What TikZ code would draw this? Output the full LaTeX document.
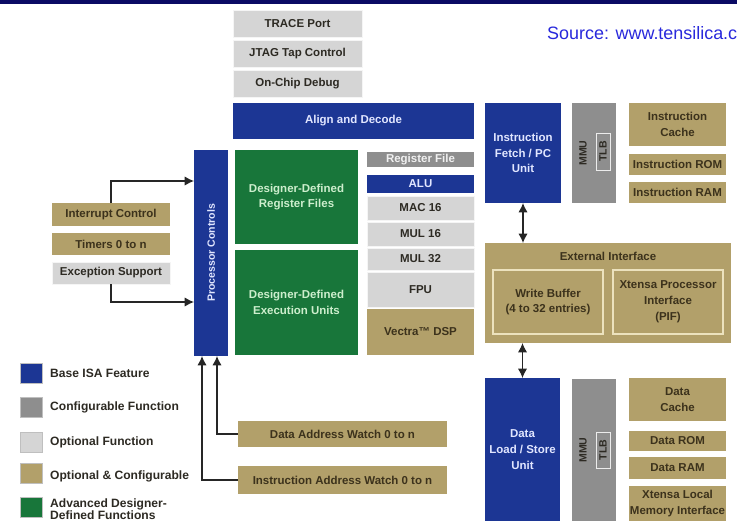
\documentclass[tikz,border=0pt]{standalone}
\usepackage{fontspec}
\setmainfont{Liberation Sans}
\usetikzlibrary{arrows.meta}

\definecolor{isablue}{RGB}{28,54,148}
\definecolor{cfggray}{RGB}{142,142,142}
\definecolor{optgray}{RGB}{213,213,213}
\definecolor{tan}{RGB}{178,160,106}
\definecolor{ddgreen}{RGB}{24,118,58}
\definecolor{topnavy}{RGB}{10,10,100}
\definecolor{srcblue}{RGB}{40,40,220}
\definecolor{inkdark}{RGB}{45,42,35}
\definecolor{inktan}{RGB}{60,50,28}
\definecolor{inkblue}{RGB}{225,230,255}
\definecolor{inkgreen}{RGB}{205,238,205}
\definecolor{cream}{RGB}{236,226,190}

% a block spanning the corner points (x1,y1) and (x2,y2), one unit = 0.03cm
\newcommand\blk[7]{\node[#1,
    minimum width={(#5-#3)*0.03cm}, minimum height={(#6-#4)*0.03cm}]
    (#2) at ({(#3+#5)/2},{(#4+#6)/2}) {#7};}

\tikzset{
  base/.style={inner sep=0pt, outer sep=0pt, align=center,
    font=\fontsize{9.8}{13.5}\selectfont\bfseries},
  isa/.style={base, fill=isablue, text=inkblue},
  cfg/.style={base, fill=cfggray, text=inkdark},
  opt/.style={base, fill=optgray, draw=white!92!gray, line width=0.6pt, text=inkdark},
  optcfg/.style={base, fill=tan, text=inktan},
  adv/.style={base, fill=ddgreen, text=inkgreen},
  inner/.style={base, fill=tan, draw=cream, line width=1.3pt, text=inktan},
  tlbbox/.style={inner sep=0pt, draw=white!85!gray, line width=0.8pt},
  vlabel/.style={rotate=90, font=\fontsize{9}{10}\selectfont\bfseries},
  arr/.style={draw=black!85, line width=1.1pt, -{Latex[length=8pt,width=8pt]}},
  dbl/.style={draw=black!85, line width=1.1pt, {Latex[length=8pt,width=8pt]}-{Latex[length=8pt,width=8pt]}},
  swatch/.style={inner sep=0pt, minimum width=0.66cm, minimum height=0.6cm, draw=black!25, line width=0.5pt},
  legtext/.style={anchor=west, inner sep=0pt, text=inkdark, align=left,
    font=\fontsize{10.3}{10.5}\selectfont\bfseries},
}

\begin{document}
\begin{tikzpicture}[x=0.03cm, y=-0.03cm]
\useasboundingbox (0,0) rectangle (737,523);
\clip (0,0) rectangle (737,523);
\fill[white] (0,0) rectangle (737,523);

% header rule and source line
\fill[topnavy] (0,0) rectangle (737,3.5);
\node[anchor=west, inner sep=0pt, text=srcblue, font=\fontsize{15.3}{17}\selectfont]
  (src) at (547,33) {Source: www.tensilica.c};

% debug blocks
\blk{opt}{trace}{233}{10}{362}{37}{TRACE Port}
\blk{opt}{jtag}{233}{40}{362}{67}{JTAG Tap Control}
\blk{opt}{ocd}{233}{70}{362}{97}{On-Chip Debug}

% decode and control
\blk{isa}{align}{233}{103}{474}{139}{Align and Decode}
\blk{isa}{pc}{194}{150}{228}{356}{}
\node[vlabel, text=inkblue] (pclabel) at (pc.center) {Processor Controls};

% designer-defined blocks
\blk{adv}{ddrf}{235}{150}{358}{244}{Designer-Defined\\Register Files}
\blk{adv}{ddeu}{235}{250}{358}{355}{Designer-Defined\\Execution Units}

% execution column
\blk{cfg}{rf}{367}{152}{474}{167}{\color{white!88!gray}Register File}
\blk{isa}{alu}{367}{175}{474}{193}{ALU}
\blk{opt}{mac}{367}{196}{474}{220}{MAC 16}
\blk{opt}{mul16}{367}{222}{474}{246}{MUL 16}
\blk{opt}{mul32}{367}{248}{474}{270}{MUL 32}
\blk{opt}{fpu}{367}{272}{474}{307}{FPU}
\blk{optcfg}{vdsp}{367}{309}{474}{355}{Vectra™ DSP}

% instruction side
\blk{isa}{ifu}{485}{103}{561}{203}{Instruction\\Fetch / PC\\Unit}
\blk{cfg}{immu}{572}{103}{616}{203}{}
\node[vlabel, text=inkdark] (immulabel) at (583,153) {MMU};
\blk{tlbbox}{itlb}{596}{133}{610}{170}{}
\node[vlabel, text=inkdark] (itlblabel) at (itlb.center) {TLB};
\blk{optcfg}{icache}{629}{103}{726}{146}{Instruction\\Cache}
\blk{optcfg}{irom}{629}{154}{726}{175}{Instruction ROM}
\blk{optcfg}{iram}{629}{182}{726}{203}{Instruction RAM}

% external interface
\blk{optcfg}{ext}{485}{243}{731}{343}{}
\node[base, text=inktan] (extlabel) at (608,256) {External Interface};
\blk{inner}{wbuf}{493}{270}{603}{334}{Write Buffer\\(4 to 32 entries)}
\blk{inner}{pif}{613}{270}{723}{334}{Xtensa Processor\\Interface\\(PIF)}

% data side
\blk{isa}{dls}{485}{378}{560}{521}{Data\\Load / Store\\Unit}
\blk{cfg}{dmmu}{572}{379}{616}{521}{}
\node[vlabel, text=inkdark] (dmmulabel) at (583,450) {MMU};
\blk{tlbbox}{dtlb}{596}{432}{610}{468}{}
\node[vlabel, text=inkdark] (dtlblabel) at (dtlb.center) {TLB};
\blk{optcfg}{dcache}{629}{378}{726}{421}{Data\\Cache}
\blk{optcfg}{drom}{629}{431}{726}{451}{Data ROM}
\blk{optcfg}{dram}{629}{457}{726}{479}{Data RAM}
\blk{optcfg}{xlmi}{629}{486}{726}{521}{Xtensa Local\\Memory Interface}

% interrupt / timer / exception blocks
\blk{optcfg}{intc}{52}{203}{170}{226}{Interrupt Control}
\blk{optcfg}{timers}{52}{233}{170}{255}{Timers 0 to n}
\blk{opt}{exc}{52}{262}{170}{284}{Exception Support}

% watch registers
\blk{optcfg}{daw}{238}{421}{447}{447}{Data Address Watch 0 to n}
\blk{optcfg}{iaw}{238}{466}{447}{494}{Instruction Address Watch 0 to n}

% connector end points on the processor controls
\coordinate (pcin1) at (194,181);
\coordinate (pcin2) at (194,302);
\coordinate (pcin3) at (217,356);
\coordinate (pcin4) at (202,356);

\draw[arr] (intc.north) |- (pcin1);
\draw[arr] (exc.south) |- (pcin2);
\draw[arr] (daw.west) -| (pcin3);
\draw[arr] (iaw.west) -| (pcin4);
\draw[dbl] (ifu.south) -- (ifu.south |- ext.north);
\draw[dbl] (ext.south -| dls.north) -- (dls.north);

% legend
\node[swatch, fill=isablue] (lg1) at (31,373) {};
\node[legtext] (lt1) at (50,373) {Base ISA Feature};
\node[swatch, fill=cfggray] (lg2) at (31,407) {};
\node[legtext] (lt2) at (50,407) {Configurable Function};
\node[swatch, fill=optgray] (lg3) at (31,442) {};
\node[legtext] (lt3) at (50,442) {Optional Function};
\node[swatch, fill=tan] (lg4) at (31,473) {};
\node[legtext] (lt4) at (50,476) {Optional \& Configurable};
\node[swatch, fill=ddgreen] (lg5) at (31,507) {};
\node[legtext] (lt5) at (50,509) {Advanced Designer-\\Defined Functions};
\end{tikzpicture}
\end{document}
